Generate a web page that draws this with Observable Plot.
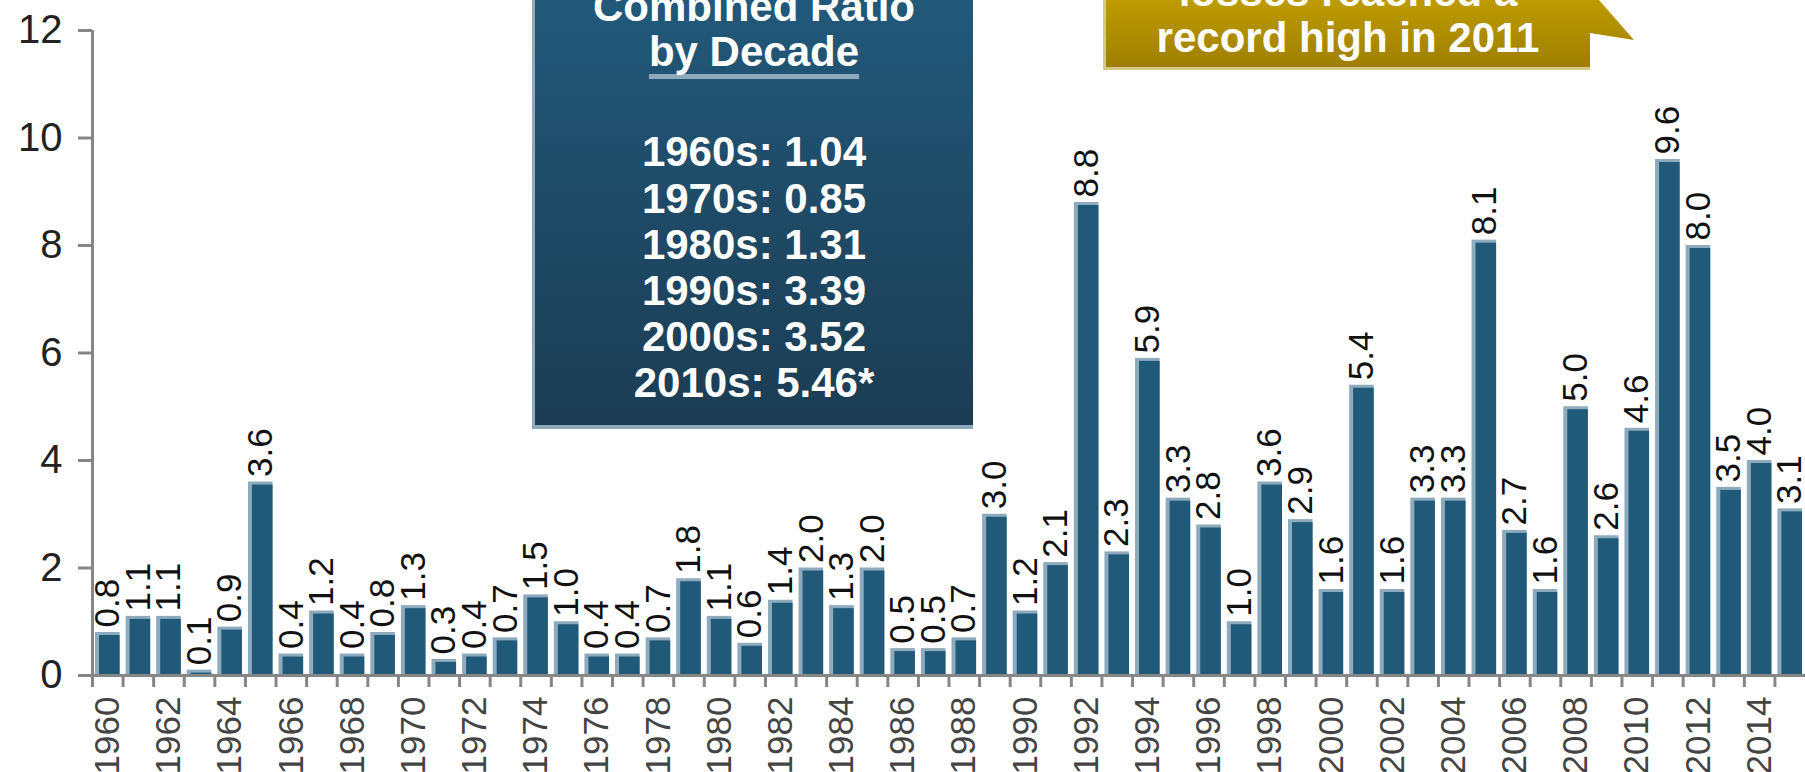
<!DOCTYPE html>
<html>
<head>
<meta charset="utf-8">
<script src="https://cdn.jsdelivr.net/npm/d3@7"></script>
<script src="https://cdn.jsdelivr.net/npm/@observablehq/plot@0.6"></script>
<style>
  html, body { margin: 0; padding: 0; background: #ffffff; }
  #wrap { position: relative; width: 1805px; height: 772px; overflow: hidden; font-family: "Liberation Sans", Arial, sans-serif; }
  #chart { position: absolute; left: 0; top: 0; }
  .box { position: absolute; box-sizing: border-box; }
  #decade { left: 532px; top: -10px; width: 441px; height: 439px;
    background: linear-gradient(to bottom, #22597a 0%, #1b3c53 100%);
    border-left: 3px solid #8da9ba; border-bottom: 4px solid #8da9ba; }
  .line { position: absolute; left: 0; width: 100%; text-align: center; color: #ffffff;
    font-weight: bold; font-size: 42px; line-height: 1; white-space: nowrap; }
  .ul { text-decoration: underline; text-decoration-color: #8da9ba; text-decoration-thickness: 5px; text-underline-offset: 8px; }
  #callout { left: 1103px; top: 0px; width: 531px; height: 70px;
    background: linear-gradient(to bottom, #bd9b00 0%, #9f7f00 100%);
    clip-path: polygon(0 0, 496px 0, 531px 40px, 487px 33px, 487px 70px, 0 70px);
    border-left: 3px solid #d6c78a; border-bottom: 3px solid #d6c78a; }
  #callout .line { width: 484px; }
</style>
</head>
<body>
<div id="wrap">
  <div id="chart"></div>
  <div id="decade" class="box"></div>
  <div id="callout" class="box"></div>
</div>
<script>
// ---- data ----
const years = d3.range(1960, 2016);
const values = [
  0.8, 1.1, 1.1, 0.1, 0.9, 3.6, 0.4, 1.2, 0.4, 0.8,
  1.3, 0.3, 0.4, 0.7, 1.5, 1.0, 0.4, 0.4, 0.7, 1.8,
  1.1, 0.6, 1.4, 2.0, 1.3, 2.0, 0.5, 0.5, 0.7, 3.0,
  1.2, 2.1, 8.8, 2.3, 5.9, 3.3, 2.8, 1.0, 3.6, 2.9,
  1.6, 5.4, 1.6, 3.3, 3.3, 8.1, 2.7, 1.6, 5.0, 2.6,
  4.6, 9.6, 8.0, 3.5, 4.0, 3.1
];
const yTicks = [0, 2, 4, 6, 8, 10, 12];
const yearLabels = d3.range(1960, 2016, 2);
const decadeNames = ["1960s", "1970s", "1980s", "1990s", "2000s", "2010s"];
const decadeRatios = ["1.04", "0.85", "1.31", "3.39", "3.52", "5.46*"];
const boxTitle = ["Combined Ratio", "by Decade"];
const calloutText = ["losses reached a", "record high in 2011"];

const data = years.map((year, i) => ({year, value: values[i]}));
const xDomain = [years[0] - 0.5, years[years.length - 1] + 0.5];
const boundaries = years.map(y => y - 0.5);

const axisGray = "#868686";
const barDark = "#215a78";
const barLight = "#8eabbe";

const chart = Plot.plot({
  width: 1805,
  height: 772,
  marginLeft: 92,
  marginRight: 0,
  marginTop: 30,
  marginBottom: 97,
  x: {domain: xDomain, axis: null},
  y: {domain: [0, 12], axis: null},
  style: {fontFamily: "'Liberation Sans', Arial, sans-serif", background: "transparent", overflow: "visible"},
  marks: [
    Plot.rectY(data, {x1: d => d.year - 0.5, x2: d => d.year + 0.5, y: "value", insetLeft: 3, insetRight: 3, fill: barLight}),
    Plot.rectY(data, {x1: d => d.year - 0.5, x2: d => d.year + 0.5, y: "value", insetLeft: 7, insetRight: 3, insetTop: 3, fill: barDark}),
    Plot.ruleX([xDomain[0]], {y1: 0, y2: 12, stroke: axisGray, strokeWidth: 3}),
    Plot.ruleY([0], {stroke: axisGray, strokeWidth: 3}),
    Plot.axisY({ticks: yTicks, label: null, tickSize: 14, tickPadding: 16, fontSize: 40, stroke: axisGray, strokeWidth: 3, fill: "#222"}),
    Plot.axisX({ticks: boundaries, label: null, tickSize: 12, tickFormat: () => "", stroke: axisGray, strokeWidth: 3}),
    Plot.text(data, {x: "year", y: "value", text: d => d.value.toFixed(1), rotate: -90, textAnchor: "start", dy: -5, fontSize: 35, fill: "#111"}),
    Plot.text(yearLabels, {x: d => d, y: 0, text: d => String(d), rotate: -90, textAnchor: "end", dy: 21, fontSize: 35, fill: "#444"})
  ]
});
document.getElementById("chart").appendChild(chart);

// ---- annotation boxes (text from arrays) ----
function addLine(parent, text, top, cls) {
  const div = document.createElement("div");
  div.className = "line";
  div.style.top = top + "px";
  const span = document.createElement("span");
  if (cls) span.className = cls;
  span.textContent = text;
  div.appendChild(span);
  parent.appendChild(div);
}
const decadeBox = document.getElementById("decade");
addLine(decadeBox, boxTitle[0], -3.6);
addLine(decadeBox, boxTitle[1], 41.4, "ul");
decadeNames.forEach((name, i) => addLine(decadeBox, `${name}: ${decadeRatios[i]}`, 141.4 + i * 46.2));

const callout = document.getElementById("callout");
addLine(callout, calloutText[0], -28.6);
addLine(callout, calloutText[1], 17.4);
</script>
</body>
</html>
